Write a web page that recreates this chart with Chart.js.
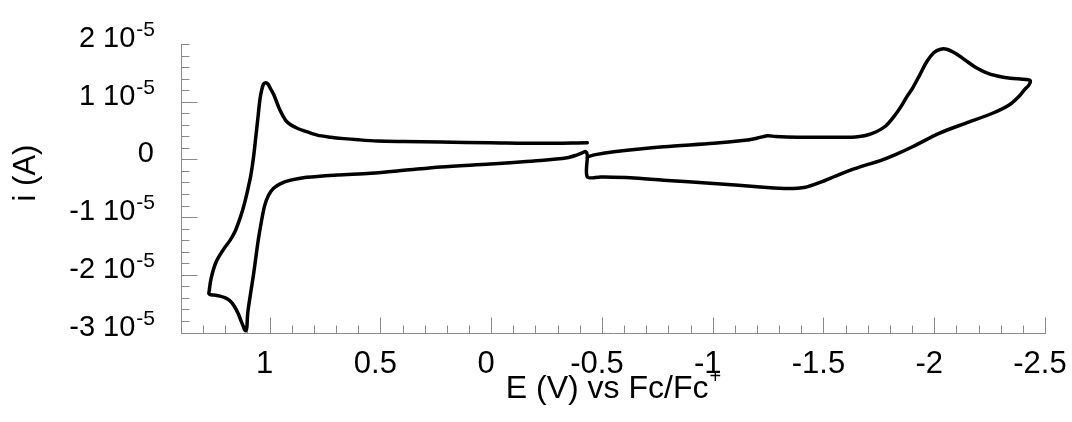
<!DOCTYPE html>
<html>
<head>
<meta charset="utf-8">
<script src="https://cdn.jsdelivr.net/npm/chart.js@4.4.1/dist/chart.umd.min.js"></script>
<style>
  html, body { margin: 0; padding: 0; background: #fff; }
  #wrap { width: 1072px; height: 422px; }
</style>
</head>
<body>
<div id="wrap"><canvas id="cv"></canvas></div>
<script>
// potential (V vs Fc/Fc+) and current (units of 10^-5 A) in scan order
const potential = [
  // upper branch, left half
  -0.434, -0.223, 0.003, 0.228, 0.394, 0.514, 0.600, 0.665, 0.725, 0.785, 0.833, 0.875, 0.905, 0.928, 0.954, 0.981, 0.995, 1.008, 1.018, 1.028,
  // steep left side
  1.036, 1.044, 1.052, 1.062, 1.073, 1.085, 1.096, 1.108, 1.122, 1.138, 1.155, 1.178, 1.203, 1.225, 1.244, 1.258, 1.267, 1.272, 1.274,
  // bottom
  1.265, 1.245, 1.224, 1.200, 1.179, 1.160, 1.141, 1.130, 1.120, 1.113, 1.108, 1.103,
  // rising side and lower branch, left half
  1.099, 1.086, 1.072, 1.061, 1.050, 1.036, 1.023, 1.005, 0.982, 0.950, 0.905, 0.833, 0.695, 0.544, 0.394, 0.228, 0.003, -0.223, -0.343, -0.385, -0.413, -0.426,
  // step
  -0.434, -0.434,
  // lower branch, right half
  -0.494, -0.629, -0.778, -1.004, -1.229, -1.338, -1.419, -1.487, -1.554, -1.622, -1.690, -1.757, -1.825, -1.902, -2.022, -2.141, -2.263, -2.338, -2.380, -2.407, -2.428, -2.434,
  // upper branch, right half
  -2.425, -2.398, -2.344, -2.281, -2.231, -2.186, -2.150, -2.119, -2.087, -2.056, -2.029, -1.998, -1.966, -1.935, -1.903, -1.876, -1.849, -1.817, -1.781, -1.736, -1.690, -1.644,
  -1.606, -1.486, -1.381, -1.283, -1.247, -1.202, -1.156, -1.005, -0.779, -0.554, -0.471, -0.434
];
const current = [
  0.29, 0.28, 0.29, 0.30, 0.31, 0.32, 0.34, 0.36, 0.385, 0.42, 0.48, 0.54, 0.60, 0.68, 0.86, 1.12, 1.22, 1.31, 1.33, 1.30,
  1.20, 1.03, 0.75, 0.40, 0.03, -0.28, -0.48, -0.68, -0.88, -1.07, -1.24, -1.40, -1.53, -1.66, -1.80, -1.97, -2.12, -2.26, -2.33,
  -2.345, -2.355, -2.37, -2.40, -2.45, -2.54, -2.68, -2.79, -2.88, -2.95, -2.97, -2.92,
  -2.673, -2.325, -1.977, -1.664, -1.368, -1.055, -0.81, -0.62, -0.50, -0.42, -0.36, -0.31, -0.27, -0.24, -0.19, -0.13, -0.08, -0.02, 0.028, 0.075, 0.118, 0.135,
  0.075, -0.303,
  -0.303, -0.317, -0.36, -0.417, -0.482, -0.504, -0.482, -0.395, -0.29, -0.186, -0.099, -0.021, 0.083, 0.219, 0.452, 0.626, 0.80, 0.944, 1.083, 1.205, 1.292, 1.362,
  1.379, 1.391, 1.405, 1.449, 1.51, 1.597, 1.692, 1.779, 1.857, 1.91, 1.91, 1.849, 1.692, 1.466, 1.24, 1.083, 0.91, 0.736, 0.579, 0.475, 0.414, 0.388,
  0.383, 0.383, 0.383, 0.397, 0.41, 0.37, 0.336, 0.278, 0.219, 0.132, 0.083, 0.045
];

const xTicks = [1, 0.5, 0, -0.5, -1, -1.5, -2, -2.5];
const xTickLabels = ['1', '0.5', '0', '-0.5', '-1', '-1.5', '-2', '-2.5'];
const yTicks = [-3, -2, -1, 0, 1, 2];
const yTickLabels = ['-3 10', '-2 10', '-1 10', '0', '1 10', '2 10'];
const yTickExp = ['-5', '-5', '-5', '', '-5', '-5'];
const xMinorStep = 0.1, yMinorStep = 0.2;
const xMin = -2.5, xMax = 1.4, yMin = -3, yMax = 2;

const FONT = '"Liberation Sans", Arial, sans-serif';

const points = potential.map((e, i) => ({ x: e, y: current[i] }));

// axes drawn by hand: inward ticks, no grid, labels with superscripts
const axesPlugin = {
  id: 'cvAxes',
  beforeDatasetsDraw(chart) {
    const { ctx, chartArea: a, scales: { x, y } } = chart;
    ctx.save();
    ctx.strokeStyle = '#8a8a8a';
    ctx.lineWidth = 1;
    ctx.beginPath();
    const L = Math.round(a.left) + 0.5, B = Math.round(a.bottom) + 0.5;
    ctx.moveTo(L, Math.round(a.top));
    ctx.lineTo(L, B);
    ctx.lineTo(Math.round(a.right) + 1, B);
    // x ticks
    const nx = Math.round((xMax - xMin) / xMinorStep);
    for (let i = 0; i <= nx; i++) {
      const v = +(xMin + i * xMinorStep).toFixed(3);
      const px = Math.round(x.getPixelForValue(v)) + 0.5;
      const major = xTicks.some(t => Math.abs(t - v) < 1e-6);
      ctx.moveTo(px, B);
      ctx.lineTo(px, B - (major ? 16 : 8));
    }
    // y ticks (top end gets a short one, as in the original)
    const ny = Math.round((yMax - yMin) / yMinorStep);
    for (let i = 0; i <= ny; i++) {
      const v = +(yMin + i * yMinorStep).toFixed(3);
      const py = Math.round(y.getPixelForValue(v)) + 0.5;
      const major = yTicks.some(t => Math.abs(t - v) < 1e-6) && v !== yMax;
      ctx.moveTo(L, py);
      ctx.lineTo(L + (major ? 16 : 8), py);
    }
    ctx.stroke();

    ctx.fillStyle = '#000';
    // x labels
    ctx.font = '31px ' + FONT;
    ctx.textAlign = 'center';
    ctx.textBaseline = 'alphabetic';
    xTicks.forEach((t, i) => {
      ctx.fillText(xTickLabels[i], x.getPixelForValue(t) - 5, 373);
    });
    // y labels
    const right = a.left - 26;
    yTicks.forEach((t, i) => {
      const py = y.getPixelForValue(t);
      ctx.textAlign = 'left';
      ctx.font = '21px ' + FONT;
      const supW = yTickExp[i] ? ctx.measureText(yTickExp[i]).width : 0;
      if (yTickExp[i]) ctx.fillText(yTickExp[i], right - supW, py - 8);
      ctx.font = '29px ' + FONT;
      ctx.textAlign = 'right';
      ctx.fillText(yTickLabels[i], right - supW - 1, py + 3);
    });

    // axis titles
    ctx.font = '32px ' + FONT;
    const tMain = 'E (V) vs Fc/Fc';
    const wMain = ctx.measureText(tMain).width;
    ctx.font = '20px ' + FONT;
    const wSup = ctx.measureText('+').width;
    const cx = (a.left + a.right) / 2;
    const x0 = cx - (wMain + wSup) / 2;
    ctx.textAlign = 'left';
    ctx.font = '32px ' + FONT;
    ctx.fillText(tMain, x0, 398);
    ctx.font = '20px ' + FONT;
    ctx.fillText('+', x0 + wMain + 1, 383);

    ctx.translate(26, 173);
    ctx.rotate(-Math.PI / 2);
    ctx.font = '31px ' + FONT;
    ctx.textAlign = 'center';
    ctx.textBaseline = 'middle';
    ctx.fillText('i (A)', 0, 0);
    ctx.restore();
  }
};

new Chart(document.getElementById('cv'), {
  type: 'scatter',
  data: {
    datasets: [{
      data: points,
      showLine: true,
      borderColor: '#000',
      borderWidth: 3.5,
      pointRadius: 0,
      tension: 0.3,
      fill: false,
      clip: false,
      borderJoinStyle: 'round',
      borderCapStyle: 'round'
    }]
  },
  options: {
    responsive: true,
    maintainAspectRatio: false,
    animation: false,
    layout: { padding: { left: 181, right: 27, top: 44, bottom: 89.5 } },
    plugins: { legend: { display: false }, tooltip: { enabled: false } },
    scales: {
      x: { type: 'linear', display: false, reverse: true, min: xMin, max: xMax },
      y: { type: 'linear', display: false, min: yMin, max: yMax }
    }
  },
  plugins: [axesPlugin]
});
</script>
</body>
</html>
